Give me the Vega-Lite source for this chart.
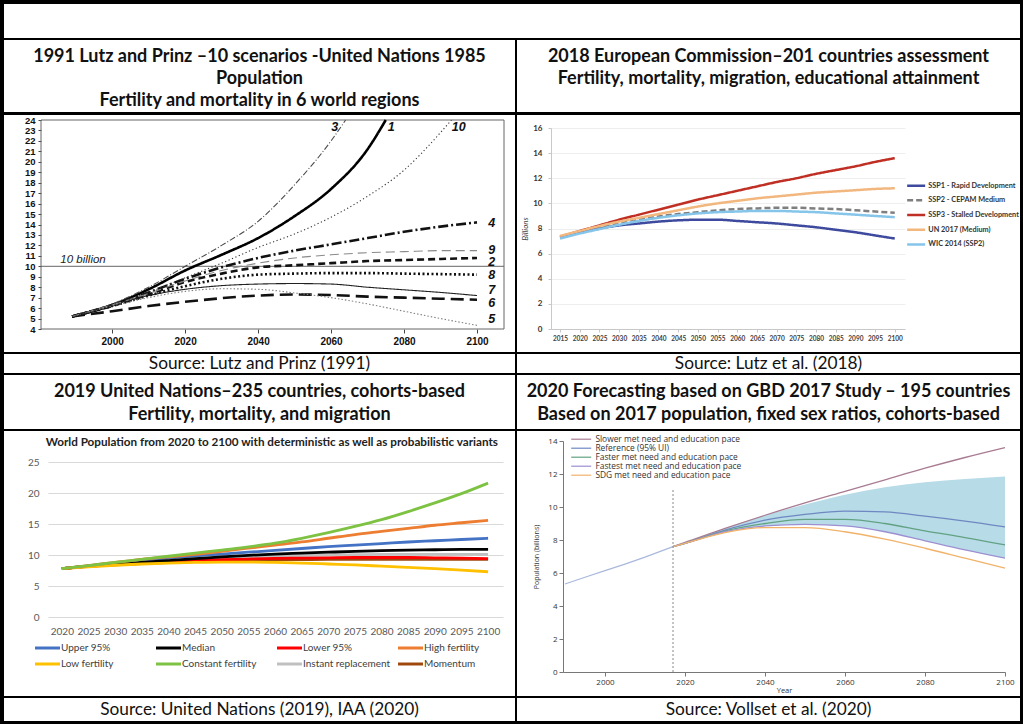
{
"$schema": "https://vega.github.io/schema/vega-lite/v6.json",
"background": "black",
"padding": {"left": 4, "top": 4, "right": 3, "bottom": 4},
"spacing": 2,
"resolve": {"scale": {"color": "independent", "strokeDash": "independent"}, "legend": {"color": "independent", "strokeDash": "independent"}},
"datasets": {
"lp": [
{"s":"1","year":1989,"v":5.2},{"s":"1","year":2000,"v":6.3},{"s":"1","year":2010,"v":7.8},{"s":"1","year":2020,"v":9.6},{"s":"1","year":2030,"v":11.1},{"s":"1","year":2040,"v":12.7},{"s":"1","year":2050,"v":14.8},{"s":"1","year":2060,"v":17.4},{"s":"1","year":2070,"v":21.2},{"s":"1","year":2075,"v":24},
{"s":"2","year":1989,"v":5.2},{"s":"2","year":2000,"v":6.2},{"s":"2","year":2010,"v":7.3},{"s":"2","year":2020,"v":8.5},{"s":"2","year":2030,"v":9.3},{"s":"2","year":2040,"v":9.9},{"s":"2","year":2050,"v":10.1},{"s":"2","year":2060,"v":10.3},{"s":"2","year":2070,"v":10.5},{"s":"2","year":2080,"v":10.6},{"s":"2","year":2090,"v":10.7},{"s":"2","year":2100,"v":10.8},
{"s":"3","year":1989,"v":5.2},{"s":"3","year":2000,"v":6.4},{"s":"3","year":2010,"v":8.0},{"s":"3","year":2020,"v":10.0},{"s":"3","year":2030,"v":12.0},{"s":"3","year":2040,"v":14.3},{"s":"3","year":2050,"v":17.8},{"s":"3","year":2060,"v":22.0},{"s":"3","year":2064,"v":24},
{"s":"4","year":1989,"v":5.2},{"s":"4","year":2000,"v":6.3},{"s":"4","year":2010,"v":7.5},{"s":"4","year":2020,"v":8.8},{"s":"4","year":2030,"v":9.9},{"s":"4","year":2040,"v":10.8},{"s":"4","year":2050,"v":11.5},{"s":"4","year":2060,"v":12.1},{"s":"4","year":2070,"v":12.7},{"s":"4","year":2080,"v":13.3},{"s":"4","year":2090,"v":13.8},{"s":"4","year":2100,"v":14.2},
{"s":"5","year":1989,"v":5.2},{"s":"5","year":2000,"v":6.2},{"s":"5","year":2010,"v":7.0},{"s":"5","year":2020,"v":7.6},{"s":"5","year":2030,"v":7.85},{"s":"5","year":2040,"v":7.8},{"s":"5","year":2050,"v":7.45},{"s":"5","year":2060,"v":7.0},{"s":"5","year":2070,"v":6.4},{"s":"5","year":2080,"v":5.7},{"s":"5","year":2090,"v":5.0},{"s":"5","year":2100,"v":4.35},
{"s":"6","year":1989,"v":5.2},{"s":"6","year":2000,"v":5.7},{"s":"6","year":2010,"v":6.2},{"s":"6","year":2020,"v":6.6},{"s":"6","year":2030,"v":6.95},{"s":"6","year":2040,"v":7.2},{"s":"6","year":2050,"v":7.3},{"s":"6","year":2060,"v":7.25},{"s":"6","year":2070,"v":7.1},{"s":"6","year":2080,"v":7.0},{"s":"6","year":2090,"v":6.9},{"s":"6","year":2100,"v":6.8},
{"s":"7","year":1989,"v":5.2},{"s":"7","year":2000,"v":6.3},{"s":"7","year":2010,"v":7.2},{"s":"7","year":2020,"v":7.8},{"s":"7","year":2030,"v":8.15},{"s":"7","year":2040,"v":8.3},{"s":"7","year":2050,"v":8.35},{"s":"7","year":2060,"v":8.3},{"s":"7","year":2070,"v":8.0},{"s":"7","year":2080,"v":7.75},{"s":"7","year":2090,"v":7.5},{"s":"7","year":2100,"v":7.2},
{"s":"8","year":1989,"v":5.2},{"s":"8","year":2000,"v":6.2},{"s":"8","year":2010,"v":7.2},{"s":"8","year":2020,"v":8.1},{"s":"8","year":2030,"v":8.8},{"s":"8","year":2040,"v":9.2},{"s":"8","year":2050,"v":9.3},{"s":"8","year":2060,"v":9.35},{"s":"8","year":2070,"v":9.35},{"s":"8","year":2080,"v":9.3},{"s":"8","year":2090,"v":9.25},{"s":"8","year":2100,"v":9.2},
{"s":"9","year":1989,"v":5.2},{"s":"9","year":2000,"v":6.3},{"s":"9","year":2010,"v":7.4},{"s":"9","year":2020,"v":8.6},{"s":"9","year":2030,"v":9.6},{"s":"9","year":2040,"v":10.3},{"s":"9","year":2050,"v":10.8},{"s":"9","year":2060,"v":11.1},{"s":"9","year":2070,"v":11.3},{"s":"9","year":2080,"v":11.4},{"s":"9","year":2090,"v":11.5},{"s":"9","year":2100,"v":11.5},
{"s":"10","year":1989,"v":5.2},{"s":"10","year":2000,"v":6.3},{"s":"10","year":2010,"v":7.5},{"s":"10","year":2020,"v":8.9},{"s":"10","year":2030,"v":10.3},{"s":"10","year":2040,"v":11.8},{"s":"10","year":2050,"v":13.1},{"s":"10","year":2060,"v":14.7},{"s":"10","year":2070,"v":16.7},{"s":"10","year":2080,"v":19.2},{"s":"10","year":2090,"v":22.8},{"s":"10","year":2093,"v":24}
],
"lplabels": [
{"t":"3","year":2061,"v":23.3},{"t":"1","year":2076.5,"v":23.3},{"t":"10","year":2095,"v":23.3},
{"t":"4","year":2104,"v":14.1},{"t":"9","year":2104,"v":11.6},{"t":"2","year":2104,"v":10.4},{"t":"8","year":2104,"v":9.15},{"t":"7","year":2104,"v":7.75},{"t":"6","year":2104,"v":6.5},{"t":"5","year":2104,"v":5.0}
],
"eu": [
{"s":"SSP1 - Rapid Development","year":2015,"v":7.3},{"s":"SSP1 - Rapid Development","year":2020,"v":7.7},{"s":"SSP1 - Rapid Development","year":2025,"v":8.0},{"s":"SSP1 - Rapid Development","year":2030,"v":8.25},{"s":"SSP1 - Rapid Development","year":2035,"v":8.4},{"s":"SSP1 - Rapid Development","year":2040,"v":8.55},{"s":"SSP1 - Rapid Development","year":2045,"v":8.65},{"s":"SSP1 - Rapid Development","year":2050,"v":8.7},{"s":"SSP1 - Rapid Development","year":2055,"v":8.7},{"s":"SSP1 - Rapid Development","year":2060,"v":8.6},{"s":"SSP1 - Rapid Development","year":2065,"v":8.5},{"s":"SSP1 - Rapid Development","year":2070,"v":8.4},{"s":"SSP1 - Rapid Development","year":2075,"v":8.25},{"s":"SSP1 - Rapid Development","year":2080,"v":8.1},{"s":"SSP1 - Rapid Development","year":2085,"v":7.9},{"s":"SSP1 - Rapid Development","year":2090,"v":7.7},{"s":"SSP1 - Rapid Development","year":2095,"v":7.45},{"s":"SSP1 - Rapid Development","year":2100,"v":7.2},
{"s":"SSP2 - CEPAM Medium","year":2015,"v":7.3},{"s":"SSP2 - CEPAM Medium","year":2020,"v":7.72},{"s":"SSP2 - CEPAM Medium","year":2025,"v":8.08},{"s":"SSP2 - CEPAM Medium","year":2030,"v":8.4},{"s":"SSP2 - CEPAM Medium","year":2035,"v":8.7},{"s":"SSP2 - CEPAM Medium","year":2040,"v":8.95},{"s":"SSP2 - CEPAM Medium","year":2045,"v":9.15},{"s":"SSP2 - CEPAM Medium","year":2050,"v":9.3},{"s":"SSP2 - CEPAM Medium","year":2055,"v":9.45},{"s":"SSP2 - CEPAM Medium","year":2060,"v":9.55},{"s":"SSP2 - CEPAM Medium","year":2065,"v":9.6},{"s":"SSP2 - CEPAM Medium","year":2070,"v":9.65},{"s":"SSP2 - CEPAM Medium","year":2075,"v":9.65},{"s":"SSP2 - CEPAM Medium","year":2080,"v":9.6},{"s":"SSP2 - CEPAM Medium","year":2085,"v":9.55},{"s":"SSP2 - CEPAM Medium","year":2090,"v":9.45},{"s":"SSP2 - CEPAM Medium","year":2095,"v":9.35},{"s":"SSP2 - CEPAM Medium","year":2100,"v":9.25},
{"s":"SSP3 - Stalled Development","year":2015,"v":7.35},{"s":"SSP3 - Stalled Development","year":2020,"v":7.8},{"s":"SSP3 - Stalled Development","year":2025,"v":8.25},{"s":"SSP3 - Stalled Development","year":2030,"v":8.7},{"s":"SSP3 - Stalled Development","year":2035,"v":9.1},{"s":"SSP3 - Stalled Development","year":2040,"v":9.5},{"s":"SSP3 - Stalled Development","year":2045,"v":9.9},{"s":"SSP3 - Stalled Development","year":2050,"v":10.3},{"s":"SSP3 - Stalled Development","year":2055,"v":10.65},{"s":"SSP3 - Stalled Development","year":2060,"v":11.0},{"s":"SSP3 - Stalled Development","year":2065,"v":11.35},{"s":"SSP3 - Stalled Development","year":2070,"v":11.7},{"s":"SSP3 - Stalled Development","year":2075,"v":12.0},{"s":"SSP3 - Stalled Development","year":2080,"v":12.35},{"s":"SSP3 - Stalled Development","year":2085,"v":12.65},{"s":"SSP3 - Stalled Development","year":2090,"v":12.95},{"s":"SSP3 - Stalled Development","year":2095,"v":13.3},{"s":"SSP3 - Stalled Development","year":2100,"v":13.6},
{"s":"UN 2017 (Medium)","year":2015,"v":7.4},{"s":"UN 2017 (Medium)","year":2020,"v":7.8},{"s":"UN 2017 (Medium)","year":2025,"v":8.2},{"s":"UN 2017 (Medium)","year":2030,"v":8.55},{"s":"UN 2017 (Medium)","year":2035,"v":8.85},{"s":"UN 2017 (Medium)","year":2040,"v":9.15},{"s":"UN 2017 (Medium)","year":2045,"v":9.45},{"s":"UN 2017 (Medium)","year":2050,"v":9.75},{"s":"UN 2017 (Medium)","year":2055,"v":10.0},{"s":"UN 2017 (Medium)","year":2060,"v":10.2},{"s":"UN 2017 (Medium)","year":2065,"v":10.4},{"s":"UN 2017 (Medium)","year":2070,"v":10.55},{"s":"UN 2017 (Medium)","year":2075,"v":10.7},{"s":"UN 2017 (Medium)","year":2080,"v":10.85},{"s":"UN 2017 (Medium)","year":2085,"v":10.95},{"s":"UN 2017 (Medium)","year":2090,"v":11.05},{"s":"UN 2017 (Medium)","year":2095,"v":11.15},{"s":"UN 2017 (Medium)","year":2100,"v":11.2},
{"s":"WIC 2014 (SSP2)","year":2015,"v":7.2},{"s":"WIC 2014 (SSP2)","year":2020,"v":7.6},{"s":"WIC 2014 (SSP2)","year":2025,"v":7.95},{"s":"WIC 2014 (SSP2)","year":2030,"v":8.3},{"s":"WIC 2014 (SSP2)","year":2035,"v":8.6},{"s":"WIC 2014 (SSP2)","year":2040,"v":8.85},{"s":"WIC 2014 (SSP2)","year":2045,"v":9.05},{"s":"WIC 2014 (SSP2)","year":2050,"v":9.2},{"s":"WIC 2014 (SSP2)","year":2055,"v":9.3},{"s":"WIC 2014 (SSP2)","year":2060,"v":9.35},{"s":"WIC 2014 (SSP2)","year":2065,"v":9.4},{"s":"WIC 2014 (SSP2)","year":2070,"v":9.4},{"s":"WIC 2014 (SSP2)","year":2075,"v":9.35},{"s":"WIC 2014 (SSP2)","year":2080,"v":9.3},{"s":"WIC 2014 (SSP2)","year":2085,"v":9.2},{"s":"WIC 2014 (SSP2)","year":2090,"v":9.1},{"s":"WIC 2014 (SSP2)","year":2095,"v":9.0},{"s":"WIC 2014 (SSP2)","year":2100,"v":8.9}
],
"un": [
{"s":"Upper 95%","year":2020,"v":7.8},{"s":"Upper 95%","year":2025,"v":8.25},{"s":"Upper 95%","year":2030,"v":8.7},{"s":"Upper 95%","year":2035,"v":9.1},{"s":"Upper 95%","year":2040,"v":9.5},{"s":"Upper 95%","year":2045,"v":9.85},{"s":"Upper 95%","year":2050,"v":10.15},{"s":"Upper 95%","year":2055,"v":10.45},{"s":"Upper 95%","year":2060,"v":10.75},{"s":"Upper 95%","year":2065,"v":11.05},{"s":"Upper 95%","year":2070,"v":11.35},{"s":"Upper 95%","year":2075,"v":11.6},{"s":"Upper 95%","year":2080,"v":11.85},{"s":"Upper 95%","year":2085,"v":12.1},{"s":"Upper 95%","year":2090,"v":12.3},{"s":"Upper 95%","year":2095,"v":12.5},{"s":"Upper 95%","year":2100,"v":12.7},
{"s":"Instant replacement","year":2020,"v":7.8},{"s":"Instant replacement","year":2025,"v":8.2},{"s":"Instant replacement","year":2030,"v":8.5},{"s":"Instant replacement","year":2035,"v":8.8},{"s":"Instant replacement","year":2040,"v":9.05},{"s":"Instant replacement","year":2045,"v":9.3},{"s":"Instant replacement","year":2050,"v":9.5},{"s":"Instant replacement","year":2055,"v":9.65},{"s":"Instant replacement","year":2060,"v":9.8},{"s":"Instant replacement","year":2065,"v":9.9},{"s":"Instant replacement","year":2070,"v":10.0},{"s":"Instant replacement","year":2075,"v":10.05},{"s":"Instant replacement","year":2080,"v":10.1},{"s":"Instant replacement","year":2085,"v":10.1},{"s":"Instant replacement","year":2090,"v":10.1},{"s":"Instant replacement","year":2095,"v":10.1},{"s":"Instant replacement","year":2100,"v":10.1},
{"s":"Momentum","year":2020,"v":7.8},{"s":"Momentum","year":2025,"v":8.15},{"s":"Momentum","year":2030,"v":8.4},{"s":"Momentum","year":2035,"v":8.6},{"s":"Momentum","year":2040,"v":8.8},{"s":"Momentum","year":2045,"v":8.95},{"s":"Momentum","year":2050,"v":9.05},{"s":"Momentum","year":2055,"v":9.15},{"s":"Momentum","year":2060,"v":9.2},{"s":"Momentum","year":2065,"v":9.25},{"s":"Momentum","year":2070,"v":9.3},{"s":"Momentum","year":2075,"v":9.3},{"s":"Momentum","year":2080,"v":9.3},{"s":"Momentum","year":2085,"v":9.3},{"s":"Momentum","year":2090,"v":9.3},{"s":"Momentum","year":2095,"v":9.3},{"s":"Momentum","year":2100,"v":9.3},
{"s":"Lower 95%","year":2020,"v":7.8},{"s":"Lower 95%","year":2025,"v":8.15},{"s":"Lower 95%","year":2030,"v":8.45},{"s":"Lower 95%","year":2035,"v":8.7},{"s":"Lower 95%","year":2040,"v":8.9},{"s":"Lower 95%","year":2045,"v":9.1},{"s":"Lower 95%","year":2050,"v":9.25},{"s":"Lower 95%","year":2055,"v":9.35},{"s":"Lower 95%","year":2060,"v":9.45},{"s":"Lower 95%","year":2065,"v":9.5},{"s":"Lower 95%","year":2070,"v":9.55},{"s":"Lower 95%","year":2075,"v":9.6},{"s":"Lower 95%","year":2080,"v":9.6},{"s":"Lower 95%","year":2085,"v":9.6},{"s":"Lower 95%","year":2090,"v":9.55},{"s":"Lower 95%","year":2095,"v":9.5},{"s":"Lower 95%","year":2100,"v":9.4},
{"s":"Median","year":2020,"v":7.8},{"s":"Median","year":2025,"v":8.2},{"s":"Median","year":2030,"v":8.5},{"s":"Median","year":2035,"v":8.8},{"s":"Median","year":2040,"v":9.1},{"s":"Median","year":2045,"v":9.4},{"s":"Median","year":2050,"v":9.7},{"s":"Median","year":2055,"v":9.95},{"s":"Median","year":2060,"v":10.15},{"s":"Median","year":2065,"v":10.3},{"s":"Median","year":2070,"v":10.45},{"s":"Median","year":2075,"v":10.6},{"s":"Median","year":2080,"v":10.7},{"s":"Median","year":2085,"v":10.8},{"s":"Median","year":2090,"v":10.85},{"s":"Median","year":2095,"v":10.9},{"s":"Median","year":2100,"v":10.9},
{"s":"Low fertility","year":2020,"v":7.8},{"s":"Low fertility","year":2025,"v":8.1},{"s":"Low fertility","year":2030,"v":8.35},{"s":"Low fertility","year":2035,"v":8.55},{"s":"Low fertility","year":2040,"v":8.7},{"s":"Low fertility","year":2045,"v":8.8},{"s":"Low fertility","year":2050,"v":8.85},{"s":"Low fertility","year":2055,"v":8.85},{"s":"Low fertility","year":2060,"v":8.8},{"s":"Low fertility","year":2065,"v":8.7},{"s":"Low fertility","year":2070,"v":8.55},{"s":"Low fertility","year":2075,"v":8.4},{"s":"Low fertility","year":2080,"v":8.2},{"s":"Low fertility","year":2085,"v":8.0},{"s":"Low fertility","year":2090,"v":7.8},{"s":"Low fertility","year":2095,"v":7.55},{"s":"Low fertility","year":2100,"v":7.3},
{"s":"High fertility","year":2020,"v":7.8},{"s":"High fertility","year":2025,"v":8.3},{"s":"High fertility","year":2030,"v":8.8},{"s":"High fertility","year":2035,"v":9.3},{"s":"High fertility","year":2040,"v":9.7},{"s":"High fertility","year":2045,"v":10.1},{"s":"High fertility","year":2050,"v":10.6},{"s":"High fertility","year":2055,"v":11.1},{"s":"High fertility","year":2060,"v":11.6},{"s":"High fertility","year":2065,"v":12.1},{"s":"High fertility","year":2070,"v":12.7},{"s":"High fertility","year":2075,"v":13.3},{"s":"High fertility","year":2080,"v":13.8},{"s":"High fertility","year":2085,"v":14.3},{"s":"High fertility","year":2090,"v":14.8},{"s":"High fertility","year":2095,"v":15.2},{"s":"High fertility","year":2100,"v":15.6},
{"s":"Constant fertility","year":2020,"v":7.8},{"s":"Constant fertility","year":2025,"v":8.3},{"s":"Constant fertility","year":2030,"v":8.8},{"s":"Constant fertility","year":2035,"v":9.3},{"s":"Constant fertility","year":2040,"v":9.8},{"s":"Constant fertility","year":2045,"v":10.3},{"s":"Constant fertility","year":2050,"v":10.8},{"s":"Constant fertility","year":2055,"v":11.3},{"s":"Constant fertility","year":2060,"v":11.9},{"s":"Constant fertility","year":2065,"v":12.7},{"s":"Constant fertility","year":2070,"v":13.6},{"s":"Constant fertility","year":2075,"v":14.6},{"s":"Constant fertility","year":2080,"v":15.7},{"s":"Constant fertility","year":2085,"v":17.0},{"s":"Constant fertility","year":2090,"v":18.4},{"s":"Constant fertility","year":2095,"v":19.9},{"s":"Constant fertility","year":2100,"v":21.6}
],
"gbd": [
{"s":"Slower met need and education pace","year":2017,"v":7.6},{"s":"Slower met need and education pace","year":2020,"v":7.85},{"s":"Slower met need and education pace","year":2030,"v":8.7},{"s":"Slower met need and education pace","year":2040,"v":9.5},{"s":"Slower met need and education pace","year":2050,"v":10.25},{"s":"Slower met need and education pace","year":2060,"v":10.95},{"s":"Slower met need and education pace","year":2070,"v":11.65},{"s":"Slower met need and education pace","year":2080,"v":12.35},{"s":"Slower met need and education pace","year":2090,"v":13.0},{"s":"Slower met need and education pace","year":2100,"v":13.6},
{"s":"Reference (95% UI)","year":2017,"v":7.6},{"s":"Reference (95% UI)","year":2020,"v":7.8},{"s":"Reference (95% UI)","year":2030,"v":8.6},{"s":"Reference (95% UI)","year":2040,"v":9.2},{"s":"Reference (95% UI)","year":2050,"v":9.55},{"s":"Reference (95% UI)","year":2060,"v":9.75},{"s":"Reference (95% UI)","year":2070,"v":9.7},{"s":"Reference (95% UI)","year":2080,"v":9.45},{"s":"Reference (95% UI)","year":2090,"v":9.15},{"s":"Reference (95% UI)","year":2100,"v":8.8},
{"s":"Faster met need and education pace","year":2017,"v":7.6},{"s":"Faster met need and education pace","year":2020,"v":7.8},{"s":"Faster met need and education pace","year":2030,"v":8.55},{"s":"Faster met need and education pace","year":2040,"v":9.0},{"s":"Faster met need and education pace","year":2050,"v":9.25},{"s":"Faster met need and education pace","year":2060,"v":9.25},{"s":"Faster met need and education pace","year":2070,"v":9.0},{"s":"Faster met need and education pace","year":2080,"v":8.55},{"s":"Faster met need and education pace","year":2090,"v":8.15},{"s":"Faster met need and education pace","year":2100,"v":7.7},
{"s":"Fastest met need and education pace","year":2017,"v":7.6},{"s":"Fastest met need and education pace","year":2020,"v":7.8},{"s":"Fastest met need and education pace","year":2030,"v":8.5},{"s":"Fastest met need and education pace","year":2040,"v":8.85},{"s":"Fastest met need and education pace","year":2050,"v":8.95},{"s":"Fastest met need and education pace","year":2060,"v":8.85},{"s":"Fastest met need and education pace","year":2070,"v":8.5},{"s":"Fastest met need and education pace","year":2080,"v":7.95},{"s":"Fastest met need and education pace","year":2090,"v":7.4},{"s":"Fastest met need and education pace","year":2100,"v":6.9},
{"s":"SDG met need and education pace","year":2017,"v":7.6},{"s":"SDG met need and education pace","year":2020,"v":7.8},{"s":"SDG met need and education pace","year":2030,"v":8.45},{"s":"SDG met need and education pace","year":2040,"v":8.75},{"s":"SDG met need and education pace","year":2050,"v":8.75},{"s":"SDG met need and education pace","year":2060,"v":8.5},{"s":"SDG met need and education pace","year":2070,"v":8.05},{"s":"SDG met need and education pace","year":2080,"v":7.5},{"s":"SDG met need and education pace","year":2090,"v":6.9},{"s":"SDG met need and education pace","year":2100,"v":6.3}
],
"gbdband": [
{"year":2017,"lo":7.6,"hi":7.6},{"year":2020,"lo":7.78,"hi":7.82},{"year":2030,"lo":8.45,"hi":8.7},{"year":2040,"lo":8.85,"hi":9.5},{"year":2050,"lo":8.95,"hi":10.15},{"year":2060,"lo":8.85,"hi":10.75},{"year":2070,"lo":8.5,"hi":11.2},{"year":2080,"lo":7.95,"hi":11.5},{"year":2090,"lo":7.4,"hi":11.7},{"year":2100,"lo":6.9,"hi":11.85}
],
"gbdhist": [
{"year":1990,"v":5.33},{"year":1995,"v":5.74},{"year":2000,"v":6.14},{"year":2005,"v":6.54},{"year":2010,"v":6.96},{"year":2017,"v":7.6}
]
},
"vconcat": [
{"width": 1016, "height": 34, "data": {"values": [{"line": 1, "t": ""}]}, "mark": "text",
 "encoding": {"y": {"field": "line", "type": "quantitative", "scale": {"domain": [0, 2], "range": [0, 34]}, "axis": null}, "text": {"field": "t"}}},
{"hconcat": [
 {"width": 511, "height": 72,
  "data": {"values": [{"line": 1, "text": "1991 Lutz and Prinz –10 scenarios -United Nations 1985"}, {"line": 2, "text": "Population"}, {"line": 3, "text": "Fertility and mortality in 6 world regions"}]},
  "mark": {"type": "text", "font": "Lato", "fontWeight": "bold", "fontSize": 18, "baseline": "middle", "color": "#111111"},
  "encoding": {"y": {"field": "line", "type": "quantitative", "scale": {"domain": [1, 3], "range": [17, 61]}, "axis": null}, "text": {"field": "text"}}},
 {"width": 503, "height": 72,
  "data": {"values": [{"line": 1, "text": "2018 European Commission–201 countries assessment"}, {"line": 2, "text": "Fertility, mortality, migration, educational attainment"}]},
  "mark": {"type": "text", "font": "Lato", "fontWeight": "bold", "fontSize": 18, "baseline": "middle", "color": "#111111"},
  "encoding": {"y": {"field": "line", "type": "quantitative", "scale": {"domain": [1, 3], "range": [17, 61]}, "axis": null}, "text": {"field": "text"}}}
], "spacing": 2, "bounds": "flush"},
{"hconcat": [
 {"width": 511, "height": 237,
  "layer": [
   {"data": {"values": [{}]},
    "mark": {"type": "rect", "fillOpacity": 0, "stroke": "#666666", "strokeWidth": 1},
    "encoding": {
     "x": {"datum": 1980.5, "type": "quantitative", "scale": {"domain": [1980.5, 2107.4], "range": [37, 500], "nice": false, "zero": false},
       "axis": {"values": [2000, 2020, 2040, 2060, 2080, 2100], "format": "d", "offset": -23, "domain": false, "tickSize": 4, "tickColor": "#444444", "labelFont": "Liberation Sans", "labelFontWeight": "bold", "labelFontSize": 10, "labelColor": "#111111", "labelPadding": 3, "grid": false, "title": null, "labelOverlap": false}},
     "x2": {"datum": 2107.4},
     "y": {"datum": 4, "type": "quantitative", "scale": {"domain": [4, 24], "range": [214, 5], "nice": false, "zero": false},
       "axis": {"values": [4,5,6,7,8,9,10,11,12,13,14,15,16,17,18,19,20,21,22,23,24], "offset": -37, "domain": false, "tickSize": 3, "tickColor": "#444444", "labelFont": "Liberation Sans", "labelFontWeight": "bold", "labelFontSize": 9.5, "labelColor": "#111111", "labelPadding": 3, "grid": false, "title": null, "labelOverlap": false}},
     "y2": {"datum": 24}}},
   {"data": {"values": [{}]},
    "mark": {"type": "rule", "color": "#666666", "strokeWidth": 1},
    "encoding": {
     "x": {"datum": 1980.5, "type": "quantitative", "scale": {"domain": [1980.5, 2107.4], "range": [37, 500], "nice": false, "zero": false},
       "axis": {"values": [2000, 2020, 2040, 2060, 2080, 2100], "format": "d", "offset": -23, "domain": false, "tickSize": 4, "tickColor": "#444444", "labelFont": "Liberation Sans", "labelFontWeight": "bold", "labelFontSize": 10, "labelColor": "#111111", "labelPadding": 3, "grid": false, "title": null, "labelOverlap": false}},
     "x2": {"datum": 2107.4},
     "y": {"datum": 10, "type": "quantitative", "scale": {"domain": [4, 24], "range": [214, 5], "nice": false, "zero": false},
       "axis": {"values": [4,5,6,7,8,9,10,11,12,13,14,15,16,17,18,19,20,21,22,23,24], "offset": -37, "domain": false, "tickSize": 3, "tickColor": "#444444", "labelFont": "Liberation Sans", "labelFontWeight": "bold", "labelFontSize": 9.5, "labelColor": "#111111", "labelPadding": 3, "grid": false, "title": null, "labelOverlap": false}}}},
   {"data": {"name": "lp"},
    "transform": [{"filter": "indexof(['1','2','4','6','8'], datum.s) >= 0"}],
    "mark": {"type": "line", "strokeWidth": 2.6, "interpolate": "monotone"},
    "encoding": {
     "x": {"field": "year", "type": "quantitative", "scale": {"domain": [1980.5, 2107.4], "range": [37, 500], "nice": false, "zero": false},
       "axis": {"values": [2000, 2020, 2040, 2060, 2080, 2100], "format": "d", "offset": -23, "domain": false, "tickSize": 4, "tickColor": "#444444", "labelFont": "Liberation Sans", "labelFontWeight": "bold", "labelFontSize": 10, "labelColor": "#111111", "labelPadding": 3, "grid": false, "title": null, "labelOverlap": false}},
     "y": {"field": "v", "type": "quantitative", "scale": {"domain": [4, 24], "range": [214, 5], "nice": false, "zero": false},
       "axis": {"values": [4,5,6,7,8,9,10,11,12,13,14,15,16,17,18,19,20,21,22,23,24], "offset": -37, "domain": false, "tickSize": 3, "tickColor": "#444444", "labelFont": "Liberation Sans", "labelFontWeight": "bold", "labelFontSize": 9.5, "labelColor": "#111111", "labelPadding": 3, "grid": false, "title": null, "labelOverlap": false}},
     "color": {"field": "s", "type": "nominal", "scale": {"domain": ["1","2","3","4","5","6","7","8","9","10"], "range": ["#000000","#111111","#4a4a4a","#111111","#808080","#111111","#222222","#111111","#8a8a8a","#333333"]}, "legend": null},
     "strokeDash": {"field": "s", "type": "nominal", "scale": {"domain": ["1","2","3","4","5","6","7","8","9","10"], "range": [[1,0],[7,4],[6,2,1,2],[10,3,2,3],[1.5,2],[13,6],[1,0],[2,2.5],[9,5],[1.2,2.5]]}, "legend": null}}},
   {"data": {"name": "lp"},
    "transform": [{"filter": "indexof(['3','5','7','9','10'], datum.s) >= 0"}],
    "mark": {"type": "line", "strokeWidth": 1.1, "interpolate": "monotone"},
    "encoding": {
     "x": {"field": "year", "type": "quantitative", "scale": {"domain": [1980.5, 2107.4], "range": [37, 500], "nice": false, "zero": false},
       "axis": {"values": [2000, 2020, 2040, 2060, 2080, 2100], "format": "d", "offset": -23, "domain": false, "tickSize": 4, "tickColor": "#444444", "labelFont": "Liberation Sans", "labelFontWeight": "bold", "labelFontSize": 10, "labelColor": "#111111", "labelPadding": 3, "grid": false, "title": null, "labelOverlap": false}},
     "y": {"field": "v", "type": "quantitative", "scale": {"domain": [4, 24], "range": [214, 5], "nice": false, "zero": false},
       "axis": {"values": [4,5,6,7,8,9,10,11,12,13,14,15,16,17,18,19,20,21,22,23,24], "offset": -37, "domain": false, "tickSize": 3, "tickColor": "#444444", "labelFont": "Liberation Sans", "labelFontWeight": "bold", "labelFontSize": 9.5, "labelColor": "#111111", "labelPadding": 3, "grid": false, "title": null, "labelOverlap": false}},
     "color": {"field": "s", "type": "nominal", "scale": {"domain": ["1","2","3","4","5","6","7","8","9","10"], "range": ["#000000","#111111","#4a4a4a","#111111","#808080","#111111","#222222","#111111","#8a8a8a","#333333"]}, "legend": null},
     "strokeDash": {"field": "s", "type": "nominal", "scale": {"domain": ["1","2","3","4","5","6","7","8","9","10"], "range": [[1,0],[7,4],[6,2,1,2],[10,3,2,3],[1.5,2],[13,6],[1,0],[2,2.5],[9,5],[1.2,2.5]]}, "legend": null}}},
   {"data": {"name": "lplabels"},
    "mark": {"type": "text", "font": "Liberation Sans", "fontStyle": "italic", "fontWeight": "bold", "fontSize": 12.5, "color": "#111111", "align": "center", "baseline": "middle"},
    "encoding": {
     "x": {"field": "year", "type": "quantitative", "scale": {"domain": [1980.5, 2107.4], "range": [37, 500], "nice": false, "zero": false},
       "axis": {"values": [2000, 2020, 2040, 2060, 2080, 2100], "format": "d", "offset": -23, "domain": false, "tickSize": 4, "tickColor": "#444444", "labelFont": "Liberation Sans", "labelFontWeight": "bold", "labelFontSize": 10, "labelColor": "#111111", "labelPadding": 3, "grid": false, "title": null, "labelOverlap": false}},
     "y": {"field": "v", "type": "quantitative", "scale": {"domain": [4, 24], "range": [214, 5], "nice": false, "zero": false},
       "axis": {"values": [4,5,6,7,8,9,10,11,12,13,14,15,16,17,18,19,20,21,22,23,24], "offset": -37, "domain": false, "tickSize": 3, "tickColor": "#444444", "labelFont": "Liberation Sans", "labelFontWeight": "bold", "labelFontSize": 9.5, "labelColor": "#111111", "labelPadding": 3, "grid": false, "title": null, "labelOverlap": false}},
     "text": {"field": "t"}}},
   {"data": {"values": [{"t": "10 billion", "year": 1985.8, "v": 10.15}]},
    "mark": {"type": "text", "font": "Liberation Sans", "fontStyle": "italic", "fontSize": 11.5, "color": "#222222", "align": "left", "baseline": "bottom"},
    "encoding": {
     "x": {"field": "year", "type": "quantitative", "scale": {"domain": [1980.5, 2107.4], "range": [37, 500], "nice": false, "zero": false},
       "axis": {"values": [2000, 2020, 2040, 2060, 2080, 2100], "format": "d", "offset": -23, "domain": false, "tickSize": 4, "tickColor": "#444444", "labelFont": "Liberation Sans", "labelFontWeight": "bold", "labelFontSize": 10, "labelColor": "#111111", "labelPadding": 3, "grid": false, "title": null, "labelOverlap": false}},
     "y": {"field": "v", "type": "quantitative", "scale": {"domain": [4, 24], "range": [214, 5], "nice": false, "zero": false},
       "axis": {"values": [4,5,6,7,8,9,10,11,12,13,14,15,16,17,18,19,20,21,22,23,24], "offset": -37, "domain": false, "tickSize": 3, "tickColor": "#444444", "labelFont": "Liberation Sans", "labelFontWeight": "bold", "labelFontSize": 9.5, "labelColor": "#111111", "labelPadding": 3, "grid": false, "title": null, "labelOverlap": false}},
     "text": {"field": "t"}}}
  ]},
 {"width": 503, "height": 237,
  "data": {"name": "eu"},
  "mark": {"type": "line", "strokeWidth": 2.5, "interpolate": "monotone"},
  "encoding": {
   "x": {"field": "year", "type": "quantitative", "scale": {"domain": [2012.7, 2102.6], "range": [34, 388], "nice": false, "zero": false},
     "axis": {"values": [2015,2020,2025,2030,2035,2040,2045,2050,2055,2060,2065,2070,2075,2080,2085,2090,2095,2100], "format": "d", "offset": -23, "domainColor": "#c8c8c8", "tickColor": "#c8c8c8", "tickSize": 3, "labelFont": "Lato", "labelFontSize": 6.5, "labelFontWeight": "bold", "labelColor": "#404040", "labelPadding": 3, "grid": false, "title": null, "labelOverlap": false, "labelAngle": 0}},
   "y": {"field": "v", "type": "quantitative", "scale": {"domain": [0, 16], "range": [214, 13], "nice": false, "zero": false},
     "axis": {"values": [0,2,4,6,8,10,12,14,16], "offset": -34, "domainColor": "#c8c8c8", "tickColor": "#c8c8c8", "tickSize": 3, "labelFont": "Lato", "labelFontSize": 8, "labelFontWeight": "bold", "labelColor": "#333333", "labelPadding": 6, "grid": true, "gridColor": "#eeeeee", "title": "Billions", "titleFont": "Lato", "titleFontStyle": "italic", "titleFontWeight": "normal", "titleFontSize": 8, "titleColor": "#444444", "titlePadding": 3}},
   "color": {"field": "s", "type": "nominal",
     "scale": {"domain": ["SSP1 - Rapid Development","SSP2 - CEPAM Medium","SSP3 - Stalled Development","UN 2017 (Medium)","WIC 2014 (SSP2)"], "range": ["#3d4a9e","#7f7f7f","#bf2f24","#f2b77e","#86c5ea"]},
     "legend": {"title": null, "orient": "none", "legendX": 390, "legendY": 67, "padding": 0, "symbolType": "M-1.75,0H7.25", "symbolSize": 16, "symbolStrokeWidth": 2.5, "labelOffset": 14, "labelFont": "Lato", "labelFontSize": 7.3, "labelFontWeight": "bold", "labelColor": "#333333", "rowPadding": 3.7, "labelLimit": 100}},
   "strokeDash": {"field": "s", "type": "nominal",
     "scale": {"domain": ["SSP1 - Rapid Development","SSP2 - CEPAM Medium","SSP3 - Stalled Development","UN 2017 (Medium)","WIC 2014 (SSP2)"], "range": [[1,0],[6,3],[1,0],[1,0],[1,0]]},
     "legend": {"title": null, "orient": "none", "legendX": 390, "legendY": 67, "padding": 0, "symbolType": "M-1.75,0H7.25", "symbolSize": 16, "symbolStrokeWidth": 2.5, "labelOffset": 14, "labelFont": "Lato", "labelFontSize": 7.3, "labelFontWeight": "bold", "labelColor": "#333333", "rowPadding": 3.7, "labelLimit": 100}}}}
], "spacing": 2, "bounds": "flush", "resolve": {"scale": {"color": "independent", "strokeDash": "independent"}, "legend": {"color": "independent", "strokeDash": "independent"}}},
{"hconcat": [
 {"width": 511, "height": 19, "data": {"values": [{"line": 1, "text": "Source: Lutz and Prinz (1991)"}]}, "mark": {"type": "text", "font": "Lato", "fontSize": 17.3, "baseline": "middle", "color": "#111111"},
  "encoding": {"y": {"field": "line", "type": "quantitative", "scale": {"domain": [0, 2], "range": [0, 20]}, "axis": null}, "text": {"field": "text"}}},
 {"width": 503, "height": 19, "data": {"values": [{"line": 1, "text": "Source: Lutz et al. (2018)"}]}, "mark": {"type": "text", "font": "Lato", "fontSize": 17.3, "baseline": "middle", "color": "#111111"},
  "encoding": {"y": {"field": "line", "type": "quantitative", "scale": {"domain": [0, 2], "range": [0, 20]}, "axis": null}, "text": {"field": "text"}}}
], "spacing": 2, "bounds": "flush"},
{"hconcat": [
 {"width": 511, "height": 54,
  "data": {"values": [{"line": 1, "text": "2019 United Nations–235 countries, cohorts-based"}, {"line": 2, "text": "Fertility, mortality, and migration"}]},
  "mark": {"type": "text", "font": "Lato", "fontWeight": "bold", "fontSize": 18, "baseline": "middle", "color": "#111111"},
  "encoding": {"y": {"field": "line", "type": "quantitative", "scale": {"domain": [1, 3], "range": [17, 63]}, "axis": null}, "text": {"field": "text"}}},
 {"width": 503, "height": 54,
  "data": {"values": [{"line": 1, "text": "2020 Forecasting based on GBD 2017 Study – 195 countries"}, {"line": 2, "text": "Based on 2017 population, fixed sex ratios, cohorts-based"}]},
  "mark": {"type": "text", "font": "Lato", "fontWeight": "bold", "fontSize": 18, "baseline": "middle", "color": "#111111"},
  "encoding": {"y": {"field": "line", "type": "quantitative", "scale": {"domain": [1, 3], "range": [17, 63]}, "axis": null}, "text": {"field": "text"}}}
], "spacing": 2, "bounds": "flush"},
{"hconcat": [
 {"width": 511, "height": 265,
  "layer": [
   {"data": {"name": "un"},
    "mark": {"type": "line", "strokeWidth": 2.8, "interpolate": "monotone"},
    "encoding": {
     "x": {"field": "year", "type": "quantitative", "scale": {"domain": [2017.4, 2102.8], "range": [44, 499], "nice": false, "zero": false},
       "axis": {"values": [2020,2025,2030,2035,2040,2045,2050,2055,2060,2065,2070,2075,2080,2085,2090,2095,2100], "format": "d", "offset": -79, "domain": false, "ticks": false, "labelFont": "Lato", "labelFontSize": 10, "labelColor": "#595959", "labelPadding": 9, "grid": false, "title": null, "labelOverlap": false}},
     "y": {"field": "v", "type": "quantitative", "scale": {"domain": [0, 25], "range": [186, 31], "nice": false, "zero": false},
       "axis": {"values": [0,5,10,15,20,25], "offset": -44, "domain": false, "ticks": false, "labelFont": "Lato", "labelFontSize": 10, "labelColor": "#595959", "labelPadding": 9, "grid": true, "gridColor": "#d9d9d9", "title": null}},
     "color": {"field": "s", "type": "nominal",
       "scale": {"domain": ["Upper 95%","Low fertility","Median","Constant fertility","Lower 95%","Instant replacement","High fertility","Momentum"], "range": ["#4472c4","#ffc000","#000000","#7dc242","#ff0000","#c0c0c0","#ed7d31","#9e480e"]},
       "legend": {"title": null, "orient": "none", "legendX": 31, "legendY": 212, "padding": 0, "columns": 4, "gridAlign": "all", "columnPadding": 0, "rowPadding": 4, "symbolType": "M-1.667,0H6.667", "symbolSize": 36, "symbolStrokeWidth": 3, "labelOffset": 16, "labelFont": "Lato", "labelFontSize": 10, "labelColor": "#404040", "labelLimit": 200}}}},
   {"data": {"values": [{"t": "World Population from 2020 to 2100 with deterministic as well as probabilistic variants", "year": 2059.4, "v": 28.2}]},
    "mark": {"type": "text", "font": "Lato", "fontWeight": "bold", "fontSize": 11.7, "color": "#222222", "align": "center", "baseline": "middle"},
    "encoding": {
     "x": {"field": "year", "type": "quantitative", "scale": {"domain": [2017.4, 2102.8], "range": [44, 499], "nice": false, "zero": false},
       "axis": {"values": [2020,2025,2030,2035,2040,2045,2050,2055,2060,2065,2070,2075,2080,2085,2090,2095,2100], "format": "d", "offset": -79, "domain": false, "ticks": false, "labelFont": "Lato", "labelFontSize": 10, "labelColor": "#595959", "labelPadding": 9, "grid": false, "title": null, "labelOverlap": false}},
     "y": {"field": "v", "type": "quantitative", "scale": {"domain": [0, 25], "range": [186, 31], "nice": false, "zero": false},
       "axis": {"values": [0,5,10,15,20,25], "offset": -44, "domain": false, "ticks": false, "labelFont": "Lato", "labelFontSize": 10, "labelColor": "#595959", "labelPadding": 9, "grid": true, "gridColor": "#d9d9d9", "title": null}},
     "text": {"field": "t"}}}
  ]},
 {"width": 503, "height": 265,
  "layer": [
   {"data": {"name": "gbdband"},
    "mark": {"type": "area", "color": "#b7dbe7", "opacity": 1, "interpolate": "monotone"},
    "encoding": {
     "x": {"field": "year", "type": "quantitative", "scale": {"domain": [1989.5, 2100], "range": [46, 488], "nice": false, "zero": false},
       "axis": {"values": [2000,2020,2040,2060,2080,2100], "format": "d", "offset": -24, "domainColor": "#777777", "tickColor": "#777777", "tickSize": 4, "labelFont": "Open Sans", "labelFontSize": 8, "labelColor": "#333333", "labelPadding": 2, "grid": false, "title": "Year", "titleFont": "Open Sans", "titleFontSize": 7.5, "titleFontWeight": "normal", "titleColor": "#333333", "titlePadding": 0, "labelOverlap": false}},
     "y": {"field": "lo", "type": "quantitative", "scale": {"domain": [0, 14], "range": [241, 10], "nice": false, "zero": false},
       "axis": {"values": [0,2,4,6,8,10,12,14], "offset": -46, "domainColor": "#777777", "tickColor": "#777777", "tickSize": 4, "labelFont": "Open Sans", "labelFontSize": 8, "labelColor": "#333333", "labelPadding": 2, "grid": false, "title": "Population (billions)", "titleFont": "Open Sans", "titleFontSize": 7, "titleFontWeight": "normal", "titleColor": "#333333", "titlePadding": 8, "labelOverlap": false}},
     "y2": {"field": "hi"}}},
   {"data": {"name": "gbdhist"},
    "mark": {"type": "line", "color": "#a9b8db", "strokeWidth": 1.2},
    "encoding": {
     "x": {"field": "year", "type": "quantitative", "scale": {"domain": [1989.5, 2100], "range": [46, 488], "nice": false, "zero": false},
       "axis": {"values": [2000,2020,2040,2060,2080,2100], "format": "d", "offset": -24, "domainColor": "#777777", "tickColor": "#777777", "tickSize": 4, "labelFont": "Open Sans", "labelFontSize": 8, "labelColor": "#333333", "labelPadding": 2, "grid": false, "title": "Year", "titleFont": "Open Sans", "titleFontSize": 7.5, "titleFontWeight": "normal", "titleColor": "#333333", "titlePadding": 0, "labelOverlap": false}},
     "y": {"field": "v", "type": "quantitative", "scale": {"domain": [0, 14], "range": [241, 10], "nice": false, "zero": false},
       "axis": {"values": [0,2,4,6,8,10,12,14], "offset": -46, "domainColor": "#777777", "tickColor": "#777777", "tickSize": 4, "labelFont": "Open Sans", "labelFontSize": 8, "labelColor": "#333333", "labelPadding": 2, "grid": false, "title": "Population (billions)", "titleFont": "Open Sans", "titleFontSize": 7, "titleFontWeight": "normal", "titleColor": "#333333", "titlePadding": 8, "labelOverlap": false}}}},
   {"data": {"name": "gbd"},
    "mark": {"type": "line", "strokeWidth": 1.3, "interpolate": "monotone"},
    "encoding": {
     "x": {"field": "year", "type": "quantitative", "scale": {"domain": [1989.5, 2100], "range": [46, 488], "nice": false, "zero": false},
       "axis": {"values": [2000,2020,2040,2060,2080,2100], "format": "d", "offset": -24, "domainColor": "#777777", "tickColor": "#777777", "tickSize": 4, "labelFont": "Open Sans", "labelFontSize": 8, "labelColor": "#333333", "labelPadding": 2, "grid": false, "title": "Year", "titleFont": "Open Sans", "titleFontSize": 7.5, "titleFontWeight": "normal", "titleColor": "#333333", "titlePadding": 0, "labelOverlap": false}},
     "y": {"field": "v", "type": "quantitative", "scale": {"domain": [0, 14], "range": [241, 10], "nice": false, "zero": false},
       "axis": {"values": [0,2,4,6,8,10,12,14], "offset": -46, "domainColor": "#777777", "tickColor": "#777777", "tickSize": 4, "labelFont": "Open Sans", "labelFontSize": 8, "labelColor": "#333333", "labelPadding": 2, "grid": false, "title": "Population (billions)", "titleFont": "Open Sans", "titleFontSize": 7, "titleFontWeight": "normal", "titleColor": "#333333", "titlePadding": 8, "labelOverlap": false}},
     "color": {"field": "s", "type": "nominal",
       "scale": {"domain": ["Slower met need and education pace","Reference (95% UI)","Faster met need and education pace","Fastest met need and education pace","SDG met need and education pace"], "range": ["#a87b92","#6f88c2","#62a283","#9d8fd2","#f1b26a"]},
       "legend": {"title": null, "orient": "none", "legendX": 54, "legendY": 4, "padding": 0, "symbolType": "M-1.333,0H5.333", "symbolSize": 36, "symbolStrokeWidth": 1.2, "labelOffset": 16, "labelFont": "Open Sans", "labelFontSize": 8.4, "labelColor": "#333333", "rowPadding": 0, "labelLimit": 250}}}},
   {"data": {"values": [{}]},
    "mark": {"type": "rule", "color": "#888888", "strokeDash": [2, 2], "strokeWidth": 1},
    "encoding": {
     "x": {"datum": 2017, "type": "quantitative", "scale": {"domain": [1989.5, 2100], "range": [46, 488], "nice": false, "zero": false},
       "axis": {"values": [2000,2020,2040,2060,2080,2100], "format": "d", "offset": -24, "domainColor": "#777777", "tickColor": "#777777", "tickSize": 4, "labelFont": "Open Sans", "labelFontSize": 8, "labelColor": "#333333", "labelPadding": 2, "grid": false, "title": "Year", "titleFont": "Open Sans", "titleFontSize": 7.5, "titleFontWeight": "normal", "titleColor": "#333333", "titlePadding": 0, "labelOverlap": false}},
     "y": {"datum": 0, "type": "quantitative", "scale": {"domain": [0, 14], "range": [241, 10], "nice": false, "zero": false},
       "axis": {"values": [0,2,4,6,8,10,12,14], "offset": -46, "domainColor": "#777777", "tickColor": "#777777", "tickSize": 4, "labelFont": "Open Sans", "labelFontSize": 8, "labelColor": "#333333", "labelPadding": 2, "grid": false, "title": "Population (billions)", "titleFont": "Open Sans", "titleFontSize": 7, "titleFontWeight": "normal", "titleColor": "#333333", "titlePadding": 8, "labelOverlap": false}},
     "y2": {"datum": 11.1}}}
  ]}
], "spacing": 2, "bounds": "flush", "resolve": {"scale": {"color": "independent", "strokeDash": "independent"}, "legend": {"color": "independent", "strokeDash": "independent"}}},
{"hconcat": [
 {"width": 511, "height": 23, "data": {"values": [{"line": 1, "text": "Source: United Nations (2019), IAA (2020)"}]}, "mark": {"type": "text", "font": "Lato", "fontSize": 17.3, "baseline": "middle", "color": "#111111"},
  "encoding": {"y": {"field": "line", "type": "quantitative", "scale": {"domain": [0, 2], "range": [0, 24]}, "axis": null}, "text": {"field": "text"}}},
 {"width": 503, "height": 23, "data": {"values": [{"line": 1, "text": "Source: Vollset et al. (2020)"}]}, "mark": {"type": "text", "font": "Lato", "fontSize": 17.3, "baseline": "middle", "color": "#111111"},
  "encoding": {"y": {"field": "line", "type": "quantitative", "scale": {"domain": [0, 2], "range": [0, 24]}, "axis": null}, "text": {"field": "text"}}}
], "spacing": 2, "bounds": "flush"}
],
"config": {
 "view": {"fill": "white", "stroke": null},
 "axis": {"labelFlush": false, "labelBound": false},
 "text": {"font": "Lato"}
}
}
